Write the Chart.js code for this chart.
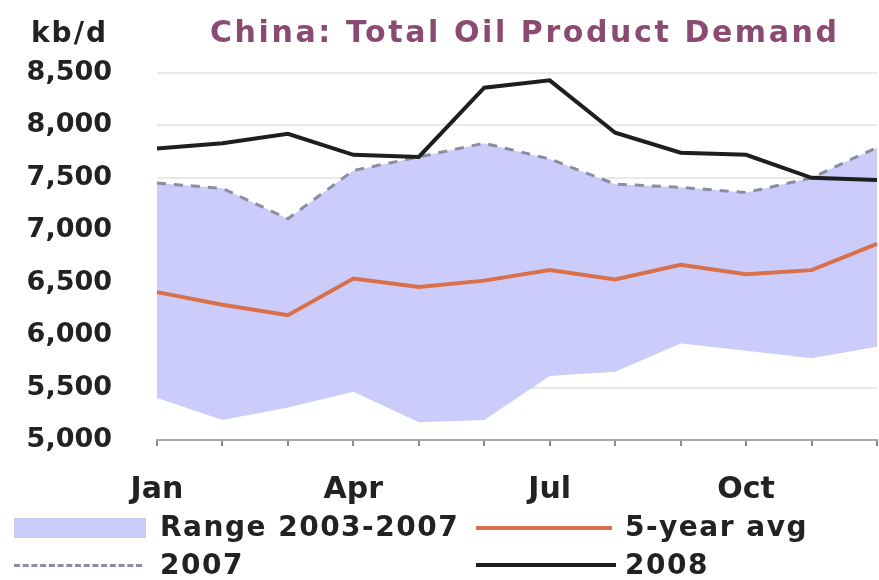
<!DOCTYPE html>
<html>
<head>
<meta charset="utf-8">
<title>China: Total Oil Product Demand</title>
<script src="https://cdn.jsdelivr.net/npm/chart.js@4/dist/chart.umd.min.js"></script>
<style>
  body { margin: 0; background: #fff; }
  #wrap { position: relative; width: 879px; height: 580px; font-family: "DejaVu Sans", Verdana, sans-serif; font-weight: bold; color: #222; }
  #graphique { position: absolute; left: 0; top: 0; }
  .txt { position: absolute; white-space: nowrap; line-height: 1; }
  #unite { left: 31px; top: 19px; font-size: 28px; letter-spacing: 2px; }
  #titre { left: 210px; top: 17px; font-size: 30px; letter-spacing: 2.6px; color: #8a4a72; }
  .leg { position: absolute; white-space: nowrap; font-size: 28px; letter-spacing: 1.5px; line-height: 1; }
  .swatch { position: absolute; }
</style>
</head>
<body>
<div id="wrap">
  <canvas id="graphique" width="879" height="580"></canvas>
  <div class="txt" id="unite">kb/d</div>
  <div class="txt" id="titre">China:  Total Oil Product Demand</div>

  <!-- légende sur deux colonnes -->
  <div class="swatch" style="left:14px; top:518px; width:132px; height:20px; background:#ccccfa;"></div>
  <div class="leg" style="left:160px; top:513px;">Range 2003-2007</div>
  <div class="swatch" style="left:476px; top:526px; width:136px; height:0; border-top:4px solid #d9704a;"></div>
  <div class="leg" style="left:625px; top:513px;">5-year avg</div>
  <div class="swatch" style="left:14px; top:564px; width:128px; height:0; border-top:3px dashed #8c8ca4;"></div>
  <div class="leg" style="left:160px; top:551px;">2007</div>
  <div class="swatch" style="left:476px; top:563px; width:140px; height:0; border-top:4px solid #1e1e1e;"></div>
  <div class="leg" style="left:625px; top:551px;">2008</div>
</div>
<script>
// Mois de l'année
const mois = ["Jan", "Feb", "Mar", "Apr", "May", "Jun", "Jul", "Aug", "Sep", "Oct", "Nov", "Dec"];
// Bornes de la plage 2003-2007 (kb/d)
const plageBasse = [5400, 5190, 5310, 5460, 5170, 5190, 5610, 5650, 5920, 5850, 5780, 5890];
const plageHaute = [7450, 7400, 7110, 7570, 7700, 7830, 7680, 7440, 7410, 7360, 7500, 7790];
// Moyenne sur 5 ans
const moyenne5ans = [6410, 6290, 6190, 6540, 6460, 6520, 6620, 6530, 6670, 6580, 6620, 6870];
// Demande 2007 et 2008
const demande2007 = [7450, 7400, 7110, 7570, 7700, 7830, 7680, 7440, 7410, 7360, 7500, 7790];
const demande2008 = [7780, 7830, 7920, 7720, 7700, 8360, 8430, 7930, 7740, 7720, 7500, 7480];
// Graduations de l'axe vertical
const yMin = 5000;
const yMax = 8500;
const yPas = 500;

const data = {
  labels: mois,
  datasets: [
    {
      label: "plage-basse",
      data: plageBasse,
      borderWidth: 0,
      pointRadius: 0,
      fill: false,
      order: 5,
    },
    {
      label: "Range 2003-2007",
      data: plageHaute,
      borderWidth: 0,
      pointRadius: 0,
      backgroundColor: "#ccccfa",
      fill: "-1",
      order: 4,
    },
    {
      label: "5-year avg",
      data: moyenne5ans,
      borderColor: "#d9704a",
      borderWidth: 4,
      pointRadius: 0,
      order: 3,
    },
    {
      label: "2007",
      data: demande2007,
      borderColor: "#8c8ca4",
      borderWidth: 3,
      borderDash: [9, 8],
      pointRadius: 0,
      order: 2,
    },
    {
      label: "2008",
      data: demande2008,
      borderColor: "#1e1e1e",
      borderWidth: 4,
      pointRadius: 0,
      order: 1,
    },
  ],
};

const config = {
  type: "line",
  data: data,
  options: {
    responsive: false,
    animation: false,
    layout: { padding: { top: 73, right: 2, left: 0, bottom: 0 } },
    plugins: {
      legend: { display: false },
      tooltip: { enabled: false },
    },
    scales: {
      x: {
        offset: false,
        afterFit: function (scale) {
          scale.height = 140;
          // pas de marge pour le dernier libellé (vide)
          scale.paddingRight = 0;
        },
        border: { color: "#a8a8a8", width: 2 },
        grid: { drawOnChartArea: false, drawTicks: true, tickLength: 6, color: "#8a8a8a", lineWidth: 2 },
        ticks: {
          autoSkip: false,
          maxRotation: 0,
          padding: 26,
          color: "#222",
          font: { family: "DejaVu Sans", size: 30, weight: "bold" },
          callback: function (valeur, index) {
            return index % 3 === 0 ? mois[index] : "";
          },
        },
      },
      y: {
        min: yMin,
        max: yMax,
        afterFit: function (scale) { scale.width = 157; },
        border: { display: false },
        grid: { color: "#e9e9e9", lineWidth: 2, drawTicks: false },
        ticks: {
          stepSize: yPas,
          padding: 45,
          color: "#222",
          font: { family: "DejaVu Sans", size: 27, weight: "bold" },
          callback: function (valeur) { return valeur.toLocaleString("en-US"); },
        },
      },
    },
  },
};

new Chart(document.querySelector("#graphique"), config);
</script>
</body>
</html>
